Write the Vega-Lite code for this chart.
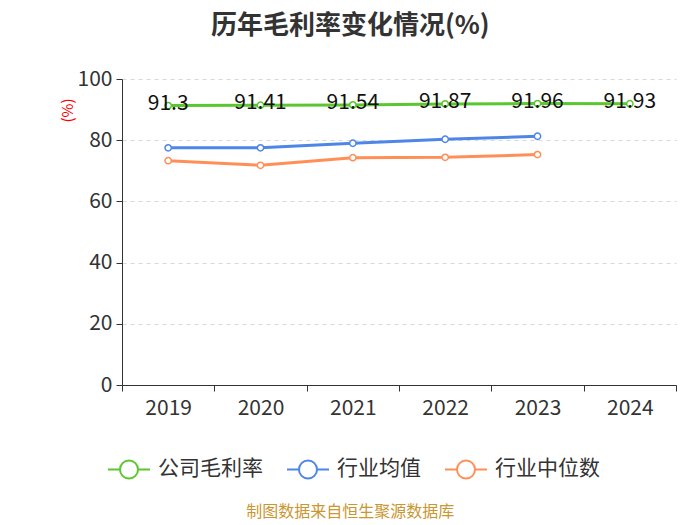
{
  "$schema": "https://vega.github.io/schema/vega-lite/v6.json",
  "background": "white",
  "padding": {"left": 60, "top": 13, "right": 20, "bottom": 0},
  "config": {
    "font": "Noto Sans CJK SC",
    "view": {"stroke": null}
  },
  "title": {
    "text": "历年毛利率变化情况(%)",
    "fontSize": 26,
    "fontWeight": "bold",
    "color": "#333333",
    "anchor": "middle",
    "frame": "bounds",
    "dx": -18,
    "offset": 29
  },
  "data": {
    "values": [
      {"year": "2019", "series": "公司毛利率", "value": 91.3},
      {"year": "2020", "series": "公司毛利率", "value": 91.41},
      {"year": "2021", "series": "公司毛利率", "value": 91.54},
      {"year": "2022", "series": "公司毛利率", "value": 91.87},
      {"year": "2023", "series": "公司毛利率", "value": 91.96},
      {"year": "2024", "series": "公司毛利率", "value": 91.93},
      {"year": "2019", "series": "行业均值", "value": 77.5},
      {"year": "2020", "series": "行业均值", "value": 77.5},
      {"year": "2021", "series": "行业均值", "value": 79.0},
      {"year": "2022", "series": "行业均值", "value": 80.3},
      {"year": "2023", "series": "行业均值", "value": 81.3},
      {"year": "2019", "series": "行业中位数", "value": 73.3},
      {"year": "2020", "series": "行业中位数", "value": 71.8},
      {"year": "2021", "series": "行业中位数", "value": 74.3},
      {"year": "2022", "series": "行业中位数", "value": 74.4},
      {"year": "2023", "series": "行业中位数", "value": 75.3}
    ]
  },
  "vconcat": [
    {
      "width": 554,
      "height": 306,
      "title": {
        "text": "制图数据来自恒生聚源数据库",
        "orient": "bottom",
        "fontSize": 16,
        "fontWeight": "normal",
        "color": "#c9962f",
        "anchor": "middle",
        "frame": "bounds",
        "dx": -18,
        "offset": 21
      },
      "encoding": {
        "x": {
          "field": "year",
          "type": "ordinal",
          "bandPosition": 0.5,
          "scale": {"type": "band", "paddingInner": 0, "paddingOuter": 0},
          "axis": {
            "title": null,
            "labelAngle": 0,
            "labelFontSize": 21,
            "labelColor": "#333333",
            "labelPadding": 6,
            "tickBand": "extent",
            "tickSize": 6,
            "tickColor": "#333333",
            "domainColor": "#333333",
            "grid": false
          }
        },
        "y": {
          "field": "value",
          "type": "quantitative",
          "scale": {"domain": [0, 100]},
          "axis": {
            "title": "(%)",
            "titleColor": "#ff0000",
            "titleFontSize": 15,
            "titleFontWeight": "normal",
            "titleX": -55,
            "titleY": 31,
            "titleAngle": -90,
            "titleAlign": "center",
            "titleBaseline": "middle",
            "values": [0, 20, 40, 60, 80, 100],
            "labelFontSize": 21,
            "labelColor": "#333333",
            "labelPadding": 4,
            "tickSize": 6,
            "tickColor": "#333333",
            "domainColor": "#333333",
            "grid": true,
            "gridColor": "#d9d9d9",
            "gridDash": [4, 4]
          }
        },
        "color": {
          "field": "series",
          "type": "nominal",
          "scale": {
            "domain": ["公司毛利率", "行业均值", "行业中位数"],
            "range": ["#5ac72e", "#4e86e8", "#ff8f57"]
          },
          "legend": {
            "title": null,
            "orient": "none",
            "legendX": -15,
            "legendY": 368,
            "direction": "horizontal",
            "labelFontSize": 21,
            "labelColor": "#333333",
            "symbolType": "M-1,0L-0.43,0M0.43,0L1,0M0.43,0A0.43,0.43,0,1,1,-0.43,0A0.43,0.43,0,1,1,0.43,0",
            "symbolSize": 1764,
            "symbolStrokeWidth": 2,
            "symbolFillColor": "white",
            "columnPadding": 20,
            "labelOffset": 7
          }
        }
      },
      "layer": [
        {
          "mark": {"type": "line", "strokeWidth": 3}
        },
        {
          "mark": {"type": "point", "filled": false, "fill": "white", "fillOpacity": 1, "size": 40, "strokeWidth": 1.5, "opacity": 1}
        },
        {
          "transform": [{"filter": "datum.series === '公司毛利率'"}],
          "mark": {"type": "text", "fontSize": 21, "dy": -2, "baseline": "middle"},
          "encoding": {
            "text": {"field": "value", "type": "quantitative"},
            "color": {"value": "#111111"}
          }
        }
      ]
    }
  ],
  "resolve": {"legend": {"color": "independent"}}
}
